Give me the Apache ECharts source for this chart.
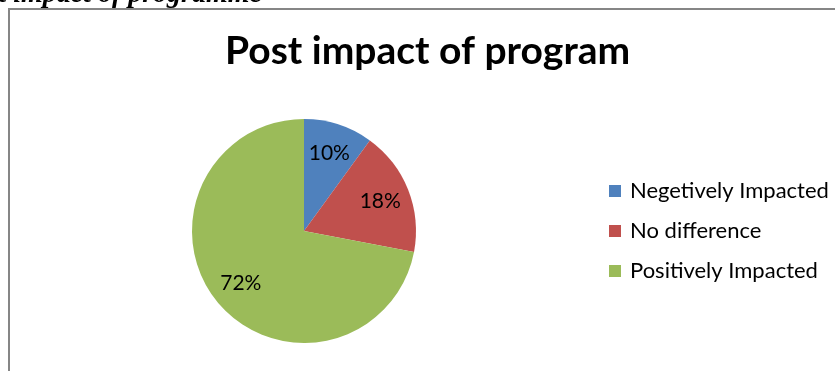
<!DOCTYPE html>
<html>
<head>
<meta charset="utf-8">
<script src="https://cdn.jsdelivr.net/npm/echarts@6/dist/echarts.min.js"></script>
<style>
  html, body { margin: 0; padding: 0; background: #ffffff; }
  #chart { width: 835px; height: 371px; }
</style>
</head>
<body>
<div id="chart"></div>
<script>
// Share of participants by post-program impact (percent)
const categories = ['Negetively Impacted', 'No difference', 'Positively Impacted'];
const shares = [10, 18, 72];
const sliceColors = ['#4F81BD', '#C0504D', '#9BBB59'];

const chartTitle = 'Post impact of program';
const captionText = 'Post impact of programme';

const pieData = categories.map((name, i) => ({ name: name, value: shares[i] }));

const chart = echarts.init(document.getElementById('chart'), null, { renderer: 'canvas' });

const CENTER = [304, 231];
const RADIUS = 112;

chart.setOption({
  backgroundColor: '#ffffff',
  animation: false,
  color: sliceColors,
  title: {
    text: chartTitle,
    left: 225,
    top: 32,
    padding: 0,
    textStyle: {
      fontFamily: 'Lato',
      fontWeight: 'bold',
      fontSize: 39,
      color: '#000000'
    }
  },
  legend: {
    orient: 'vertical',
    left: 609,
    top: 179,
    padding: 0,
    itemWidth: 12,
    itemHeight: 12,
    itemGap: 16,
    icon: 'rect',
    selectedMode: false,
    data: categories,
    textStyle: {
      fontFamily: 'Lato',
      fontSize: 22,
      lineHeight: 24,
      color: '#000000',
      padding: [0, 0, 0, 4]
    }
  },
  graphic: [
    {
      type: 'rect',
      silent: true,
      shape: { x: 9, y: 9, width: 900, height: 500 },
      style: { fill: 'none', stroke: '#868686', lineWidth: 2 }
    },
    {
      type: 'text',
      silent: true,
      style: {
        text: captionText,
        x: 262,
        y: 9,
        align: 'right',
        verticalAlign: 'bottom',
        font: 'italic bold 28px "Liberation Serif"',
        fill: '#000000'
      }
    }
  ],
  series: [
    {
      // filled slices
      type: 'pie',
      center: CENTER,
      radius: [0, RADIUS],
      startAngle: 90,
      clockwise: true,
      silent: true,
      data: pieData,
      label: { show: false },
      labelLine: { show: false },
      itemStyle: { borderWidth: 0 }
    },
    {
      // transparent ring used only to place the percentage labels
      type: 'pie',
      center: CENTER,
      radius: [0, 158],
      startAngle: 90,
      clockwise: true,
      silent: true,
      data: pieData,
      itemStyle: { color: 'rgba(0,0,0,0)', borderWidth: 0 },
      label: {
        show: true,
        position: 'inside',
        formatter: p => p.value + '%',
        fontFamily: 'Lato',
        fontSize: 21,
        color: '#000000'
      },
      labelLine: { show: false }
    }
  ]
});
</script>
</body>
</html>
